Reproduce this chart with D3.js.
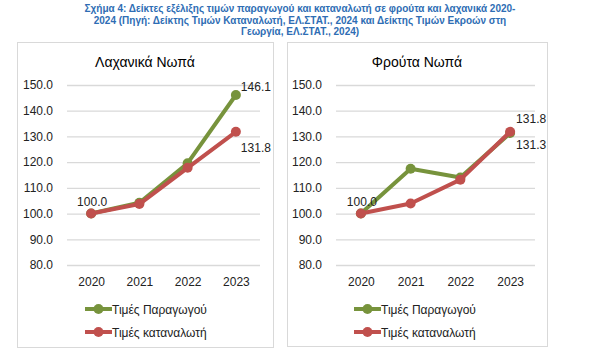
<!DOCTYPE html>
<html><head><meta charset="utf-8">
<script src="https://cdn.jsdelivr.net/npm/d3@7"></script>
<style>body{margin:0;background:#fff;font-family:"Liberation Sans",Arial,sans-serif}</style>
</head><body>
<svg id="c" width="600" height="363"></svg>
<script>
const years = ["2020","2021","2022","2023"];
const yTicks = [80,90,100,110,120,130,140,150];
const vegProducer = [100.0, 104.2, 119.6, 146.1];
const vegConsumer = [100.0, 103.7, 117.8, 131.8];
const fruitProducer = [100.0, 117.4, 114.0, 131.3];
const fruitConsumer = [100.0, 103.9, 113.2, 131.8];
const seriesNames = ["Τιμές Παραγωγού","Τιμές καταναλωτή"];
const titleLines = ["Σχήμα 4: Δείκτες εξέλιξης τιμών παραγωγού και καταναλωτή σε φρούτα και λαχανικά 2020-",
 "2024 (Πηγή: Δείκτης Τιμών Καταναλωτή, ΕΛ.ΣΤΑΤ., 2024 και Δείκτης Τιμών Εκροών στη",
 "Γεωργία, ΕΛ.ΣΤΑΤ., 2024)"];
const colors = ["#77933c","#c0504d"];

const svg = d3.select("#c");
svg.append("g").selectAll("text").data(titleLines).join("text")
  .attr("x",300).attr("y",(d,i)=>12+i*11.5).attr("text-anchor","middle")
  .attr("font-size",10).attr("font-weight","bold").attr("fill","#2e6db4").text(d=>d);

function panel(box, plot, title, series, labels){
  const g = svg.append("g");
  g.append("rect").attr("x",box[0]+0.5).attr("y",box[1]+0.5).attr("width",box[2]-box[0]).attr("height",box[3]-box[1])
    .attr("fill","#fff").attr("stroke","#d9d9d9");
  const x = d3.scalePoint().domain(years).range([plot[0],plot[1]]).padding(0.5);
  const y = d3.scaleLinear().domain([80,150]).range([plot[3],plot[2]]);
  g.append("text").attr("x",(box[0]+box[2])/2).attr("y",67).attr("text-anchor","middle")
    .attr("font-size",14).attr("fill","#000").text(title);
  const ya = g.append("g").attr("transform",`translate(${plot[0]},0)`)
    .call(d3.axisLeft(y).tickValues(yTicks).tickFormat(d3.format(".1f")).tickSize(-(plot[1]-plot[0])).tickPadding(14));
  ya.select(".domain").remove();
  ya.selectAll("line").attr("stroke","#d9d9d9").attr("stroke-width",1.3);
  ya.selectAll("text").attr("font-size",12).attr("fill","#222").attr("font-family","Liberation Sans, Arial");
  const xa = g.append("g").attr("transform",`translate(0,${plot[3]})`).call(d3.axisBottom(x).tickSize(0).tickPadding(12));
  xa.select(".domain").remove();
  xa.selectAll("text").attr("font-size",12).attr("fill","#222").attr("font-family","Liberation Sans, Arial");
  const line = d3.line().x((d,i)=>x(years[i])).y(d=>y(d));
  series.forEach((s,k)=>{
    g.append("path").attr("d",line(s)).attr("fill","none").attr("stroke",colors[k]).attr("stroke-width",4).attr("stroke-linejoin","round");
    g.selectAll(null).data(s).join("circle").attr("cx",(d,i)=>x(years[i])).attr("cy",d=>y(d)).attr("r",5).attr("fill",colors[k]);
  });
  labels.forEach(l=>{
    g.append("text").attr("x",x(years[l.i])+l.dx).attr("y",y(l.v)+l.dy).attr("text-anchor","middle")
      .attr("font-size",12).attr("fill","#222").text(l.v.toFixed(1));
  });
  // legend
  seriesNames.forEach((n,k)=>{
    const ly = 309 + k*23;
    const lx = box[0] + (k===0?0:0) + (plot[0]-box[0]) + 18;
    g.append("line").attr("x1",lx).attr("x2",lx+27).attr("y1",ly).attr("y2",ly).attr("stroke",colors[k]).attr("stroke-width",4);
    g.append("circle").attr("cx",lx+13.5).attr("cy",ly).attr("r",5).attr("fill",colors[k]);
    g.append("text").attr("x",lx+27).attr("y",ly+4.5).attr("font-size",12).attr("fill","#222").text(n);
  });
}
panel([17,42,273,347],[67,260,85,265],"Λαχανικά Νωπά",[vegProducer,vegConsumer],
  [{i:0,v:vegProducer[0],dx:1,dy:-8},{i:3,v:vegProducer[3],dx:20,dy:-4},{i:3,v:vegConsumer[3],dx:20,dy:20}]);
panel([287,42,547,346],[336,535,85,265],"Φρούτα Νωπά",[fruitProducer,fruitConsumer],
  [{i:0,v:fruitProducer[0],dx:1,dy:-8},{i:3,v:fruitConsumer[3],dx:21,dy:-9},{i:3,v:fruitProducer[3],dx:21,dy:16}]);
</script>
</body></html>
